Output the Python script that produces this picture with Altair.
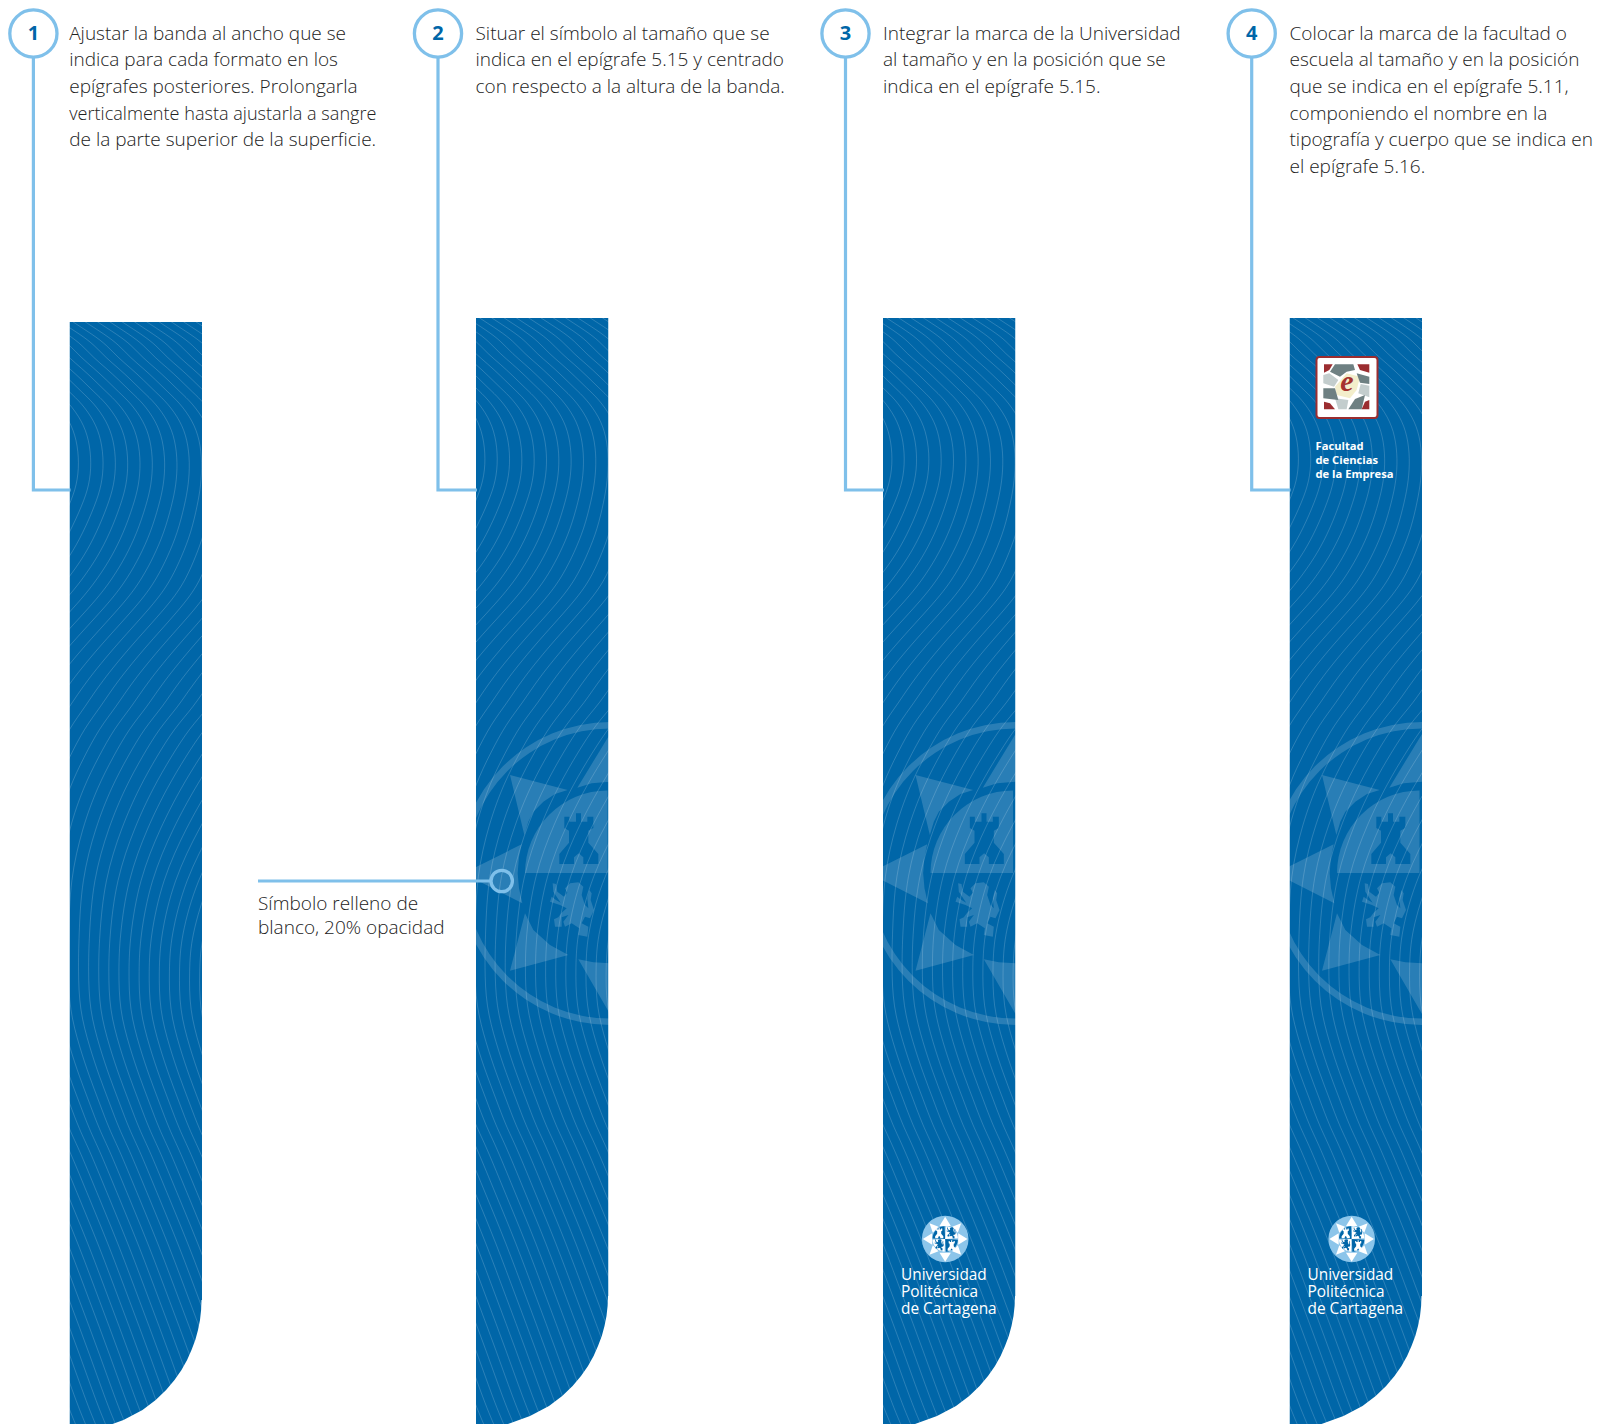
import altair as alt
import pandas as pd

# ---------- texts ----------
font = "Open Sans"
col1 = ["Ajustar la banda al ancho que se", "indica para cada formato en los", "epígrafes posteriores. Prolongarla",
        "verticalmente hasta ajustarla a sangre", "de la parte superior de la superficie."]
col2 = ["Situar el símbolo al tamaño que se", "indica en el epígrafe 5.15 y centrado", "con respecto a la altura de la banda."]
col3 = ["Integrar la marca de la Universidad", "al tamaño y en la posición que se", "indica en el epígrafe 5.15."]
col4 = ["Colocar la marca de la facultad o", "escuela al tamaño y en la posición", "que se indica en el epígrafe 5.11,",
        "componiendo el nombre en la", "tipografía y cuerpo que se indica en", "el epígrafe 5.16."]
columns = [col1, col2, col3, col4]
line_y = [40, 66, 93, 120, 146, 173]
numbers = ["1", "2", "3", "4"]
upct_name = ["Universidad", "Politécnica", "de Cartagena"]
upct_y = [1280, 1297, 1314]
fac_name = ["Facultad", "de Ciencias", "de la Empresa"]
fac_y = [450, 464, 477.5]
note = ["Símbolo relleno de", "blanco, 20% opacidad"]
note_y = [910, 934]

# ---------- layout ----------
band_left = [69.5, 476, 883, 1289.5]
text_left = [69.2, 475.5, 883, 1289.5]
band_top = [322, 318, 318, 318]
band_w = 132.5
band_dy = [0, -4, -4, -4]
sym_dx = [0, 0, -1.5, -1.5]
node_x = [33.4, 438, 845.5, 1251.7]
BLUE = "#0066a8"
SKY = "#7fc0ea"
INK = "#222222"
VEIL = 0.16

# band's rounded corner: distance from left edge at each y
arc_y = [1300, 1310, 1320, 1330, 1340, 1350, 1360, 1370, 1380, 1390, 1400, 1410, 1420, 1428]
arc_x = [132, 131.6, 130.5, 128.5, 125.8, 122, 117.6, 112, 105, 96.6, 86.2, 73, 54, 32]

# contour pattern: first-line offset and line gap at each height
wave_y = [300, 320, 335, 345, 358, 368, 380, 392, 403, 421, 440, 463, 485, 505, 533, 557, 577, 600, 645, 683, 707, 728,
          757, 787, 827, 880, 937, 970, 1010, 1047, 1077, 1103, 1130, 1150, 1199, 1247, 1301, 1354, 1411, 1440]
wave_x = [-150, -123, -99, -86, -74, -62, -49, -37, -25, -12, -5, -2.6, -5, -12.8, -27, -42, -59, -80, -124, -155, -170.5,
          -180, -188.5, -196, -195, -183.5, -164, -163, -160, -150, -140, -130, -120, -110, -90, -70, -50, -30, -10, 3]
wave_g = [12.3] * 12 + [12.4, 12.8, 13.5, 14, 14.7, 15.3, 15.5, 15.5, 15.5, 15, 14.5, 14, 13, 11.5, 10.2, 10.1] + [10] * 12

# symbol pieces, in pixels of a 3x crop of the second band
tri_upper_left = [(120, 195), (293, 240), (255, 252), (220, 275), (190, 305), (175, 335), (163, 375)]
tri_left = [(0, 480), (155, 403), (147, 440), (143, 490), (147, 535), (157, 580), (0, 500)]
tri_lower_left = [(165, 610), (190, 660), (240, 705), (295, 735), (120, 782)]
tri_lower_right = [(325, 748), (370, 757), (420, 760), (420, 912)]
tri_upper_right = [(420, 72), (420, 215), (365, 220), (322, 233)]
castle = [(268, 462), (268, 432), (297, 398), (297, 362), (283, 354), (283, 320), (298, 320), (298, 335),
          (318, 335), (318, 310), (333, 310), (333, 335), (352, 335), (352, 320), (370, 320), (370, 354), (355, 362),
          (355, 398), (385, 432), (385, 462), (340, 462), (340, 442), (326, 430), (312, 442), (312, 462)]
lion = [(248, 520), (258, 522), (262, 545), (282, 560), (292, 548), (285, 535), (300, 520), (325, 517), (340, 530),
        (335, 555), (345, 585), (355, 595), (352, 565), (358, 540), (365, 550), (362, 570), (372, 600), (360, 625),
        (345, 620), (335, 640), (355, 650), (352, 680), (325, 675), (328, 655), (305, 640), (285, 650), (280, 635),
        (295, 615), (275, 622), (275, 650), (255, 650), (252, 628), (265, 622), (275, 608), (290, 595), (270, 585),
        (240, 575), (245, 560), (258, 570), (272, 578), (250, 545)]

# university emblem, in pixels of a 3x crop of the third band
star = [[(287, 140), (270, 168), (304, 168)], [(287, 275), (270, 248), (304, 248)],
        [(220, 207), (248, 190), (248, 224)], [(354, 207), (326, 190), (326, 224)],
        [(335, 160), (308, 170), (325, 188)], [(240, 160), (267, 170), (250, 188)],
        [(335, 254), (308, 244), (325, 226)], [(240, 254), (267, 244), (250, 226)]]

# faculty mark, in pixels of a 3x crop of the fourth band
mos_red = [[(252, 133), (278, 133), (268, 150), (252, 158)], [(352, 133), (388, 133), (388, 158), (360, 150)],
           [(252, 245), (270, 250), (285, 268), (252, 268)], [(365, 268), (375, 245), (388, 240), (388, 268)]]
mos_dark = [[(285, 133), (340, 133), (345, 150), (320, 155), (300, 170), (270, 155)],
            [(345, 237), (375, 225), (365, 268), (325, 268)],
            [(250, 205), (285, 205), (295, 240), (250, 235)],
            [(350, 160), (388, 170), (388, 192), (360, 188)]]
mos_light = [[(250, 165), (268, 160), (295, 180), (282, 200), (250, 190)],
             [(362, 192), (388, 197), (388, 232), (355, 220)],
             [(285, 235), (325, 240), (320, 268), (295, 268)]]
mos_cream = [[(285, 200), (320, 160), (360, 170), (350, 210), (330, 235), (290, 225)]]

# ---------- scales ----------
sx = alt.Scale(domain=[8, 1601], nice=False, zero=False)
sy = alt.Scale(domain=[1424, 8], nice=False, zero=False)
X = alt.X("x:Q", scale=sx, axis=None, title=None)
Y = alt.Y("y:Q", scale=sy, axis=None, title=None)

def polys(rows, color, opacity=1.0):
    df = pd.DataFrame(rows, columns=["id", "o", "x", "y"])
    return alt.Chart(df).mark_line(fill=color, fillOpacity=opacity, strokeWidth=0, interpolate="linear-closed",
                                   clip=True).encode(x=X, y=Y, detail="id:N", order="o:Q")

def rows_for(shapes, fx, fy, tag):
    out = []
    for i, s in enumerate(shapes):
        for o, (a, b) in enumerate(s):
            out.append((f"{tag}{i}", o, fx(a), fy(b)))
    return out

layers = []

# bands
layers.append(alt.Chart(pd.DataFrame({"x": band_left, "x2": [b + band_w for b in band_left], "y": band_top,
                                      "y2": [1430] * 4}))
              .mark_rect(color=BLUE, clip=True).encode(x=X, x2="x2:Q", y=Y, y2="y2:Q"))

# symbol on bands 2-4
ring = pd.DataFrame({"x": [band_left[i] + 134 + sym_dx[i] for i in (1, 2, 3)], "y": [873.5] * 3})
quad = pd.DataFrame({"x": [band_left[i] + 131.5 + sym_dx[i] for i in (1, 2, 3)], "y": [873] * 3})
layers.append(alt.Chart(ring).mark_arc(radius=151.5, radius2=145, theta=0, theta2=6.2832, color="white", opacity=VEIL)
              .encode(x=X, y=Y))
layers.append(alt.Chart(quad).mark_arc(radius=82.5, radius2=0, theta=4.7124, theta2=6.2832, color="white", opacity=VEIL)
              .encode(x=X, y=Y))
tri_rows, cas_rows, lio_rows = [], [], []
for i in (1, 2, 3):
    fx = lambda a, i=i: band_left[i] + sym_dx[i] + a / 3 - 6
    fy = lambda b: 710 + b / 3
    tri_rows += rows_for([tri_upper_left, tri_left, tri_lower_left, tri_lower_right, tri_upper_right], fx, fy, f"t{i}")
    cas_rows += rows_for([castle], fx, fy, f"c{i}")
    lio_rows += rows_for([lion], fx, fy, f"l{i}")
layers.append(polys(tri_rows, "white", VEIL))
layers.append(polys(cas_rows, BLUE))
layers.append(polys(lio_rows, "white", VEIL))

# contour lines
wave_rows = []
for b in range(4):
    for k in range(1, 31):
        for o, (yy, x0, g) in enumerate(zip(wave_y, wave_x, wave_g)):
            wave_rows.append((f"{b}-{k}", o, round(band_left[b] + x0 + k * g, 1), yy + band_dy[b]))
wave = pd.DataFrame(wave_rows, columns=["id", "o", "x", "y"])
layers.append(alt.Chart(wave).mark_line(color="white", opacity=0.22, strokeWidth=0.8, interpolate="basis", clip=True)
              .encode(x=X, y=Y, detail="id:N", order="o:Q"))

# white ground outside the bands
gaps_l = [8] + [b + band_w for b in band_left]
gaps_r = band_left + [1601]
layers.append(alt.Chart(pd.DataFrame({"x": gaps_l, "x2": gaps_r, "y": [8] * 5, "y2": [1424] * 5}))
              .mark_rect(color="white", clip=True).encode(x=X, x2="x2:Q", y=Y, y2="y2:Q"))
layers.append(alt.Chart(pd.DataFrame({"x": [8, band_left[0]], "x2": [1601, band_left[0] + band_w],
                                      "y": [8, 318], "y2": [318, band_top[0]]}))
              .mark_rect(color="white", clip=True).encode(x=X, x2="x2:Q", y=Y, y2="y2:Q"))
corner_rows = []
for b in range(4):
    right = band_left[b] + band_w + 1
    outline = [(band_left[b] + a, yy + band_dy[b]) for yy, a in zip(arc_y, arc_x)]
    outline += [(right, arc_y[-1] + band_dy[b] + 6), (right, arc_y[0] + band_dy[b])]
    corner_rows += [(f"k{b}", o, p[0], p[1]) for o, p in enumerate(outline)]
layers.append(polys(corner_rows, "white"))

# university emblem on bands 3 and 4
emb = pd.DataFrame({"x": [band_left[i] + 62.2 for i in (2, 3)], "y": [1239] * 2})
layers.append(alt.Chart(emb).mark_arc(radius=23.3, radius2=0, theta=0, theta2=6.2832, color="#8cc5ea").encode(x=X, y=Y))
star_rows = []
for i in (2, 3):
    star_rows += rows_for(star, lambda a, i=i: band_left[i] + a / 3 - 33.5, lambda b: 1170 + b / 3, f"s{i}")
layers.append(polys(star_rows, "white"))
for t0, t1, c in [(4.76, 6.23, BLUE), (0.05, 1.52, "white"), (3.19, 4.66, "white"), (1.62, 3.09, BLUE)]:
    layers.append(alt.Chart(emb).mark_arc(radius=12.7, radius2=0, theta=t0, theta2=t1, color=c).encode(x=X, y=Y))
mini_w, mini_b = [], []
for i in (2, 3):
    cx = band_left[i] + 62.2
    for (dx, dy) in [(-6, -6), (6.5, 6.5)]:
        mini_w += rows_for([castle], lambda a, cx=cx, dx=dx: cx + dx + (a - 326) * 0.07, lambda b, dy=dy: 1239 + dy + (b - 386) * 0.07, f"mw{i}{dx}")
    for (dx, dy) in [(6, -6), (-6, 6)]:
        mini_b += rows_for([lion], lambda a, cx=cx, dx=dx: cx + dx + (a - 306) * 0.07, lambda b, dy=dy: 1239 + dy + (b - 600) * 0.07, f"mb{i}{dx}")
layers.append(polys(mini_w, "white"))
layers.append(polys(mini_b, BLUE))

# faculty mark on band 4
fx4 = lambda a: 1240 + a / 3
fy4 = lambda b: 320 + b / 3
layers.append(alt.Chart(pd.DataFrame({"x": [1316.5], "x2": [1377.5], "y": [357], "y2": [418]}))
              .mark_rect(fill="white", stroke="#9b2d30", strokeWidth=2, cornerRadius=3).encode(x=X, x2="x2:Q", y=Y, y2="y2:Q"))
layers.append(polys(rows_for(mos_cream, fx4, fy4, "mc"), "#f3eecb"))
layers.append(polys(rows_for(mos_light, fx4, fy4, "ml"), "#c3cdcd"))
layers.append(polys(rows_for(mos_dark, fx4, fy4, "md"), "#6e8082"))
layers.append(polys(rows_for(mos_red, fx4, fy4, "mr"), "#9b2d30"))
layers.append(alt.Chart(pd.DataFrame({"x": [1347], "y": [391], "t": ["e"]}))
              .mark_text(font="Liberation Serif", fontSize=30, fontWeight="bold", fontStyle="italic", color="#a5322f",
                         align="center", baseline="alphabetic").encode(x=X, y=Y, text="t:N"))

# connectors
conn_rows = []
for b in range(4):
    conn_rows += [(b, 0, node_x[b], 58), (b, 1, node_x[b], 490), (b, 2, band_left[b] + 1, 490)]
conn = pd.DataFrame(conn_rows, columns=["id", "o", "x", "y"])
layers.append(alt.Chart(conn).mark_line(color=SKY, strokeWidth=3.2, strokeJoin="miter").encode(x=X, y=Y, detail="id:N", order="o:Q"))
layers.append(alt.Chart(pd.DataFrame({"x": node_x, "y": [33.5] * 4})).mark_point(shape="circle", size=2228, filled=True,
              fill="white", stroke=SKY, strokeWidth=3.3, opacity=1).encode(x=X, y=Y))
layers.append(alt.Chart(pd.DataFrame({"x": node_x, "y": [33.5] * 4, "t": numbers}))
              .mark_text(font=font, fontSize=20, fontWeight="bold", color=BLUE, align="center", baseline="middle")
              .encode(x=X, y=Y, text="t:N"))

# callout
call = pd.DataFrame({"id": [0, 0], "o": [0, 1], "x": [258, 490.5], "y": [881, 881]})
layers.append(alt.Chart(call).mark_line(color=SKY, strokeWidth=3.2).encode(x=X, y=Y, detail="id:N", order="o:Q"))
layers.append(alt.Chart(pd.DataFrame({"x": [501.7], "y": [881]})).mark_point(shape="circle", size=458, filled=False,
              stroke=SKY, strokeWidth=3.3, opacity=1).encode(x=X, y=Y))

# texts
body = []
for b, col in enumerate(columns):
    for i, t in enumerate(col):
        body.append({"x": text_left[b], "y": line_y[i], "t": t, "s": 18.1 if t.startswith("verticalmente") else 19})
body += [{"x": 258, "y": note_y[i], "t": note[i], "s": 19} for i in range(2)]
layers.append(alt.Chart(pd.DataFrame(body)).mark_text(font=font, fontWeight=300, color=INK, align="left",
              baseline="alphabetic").encode(x=X, y=Y, text="t:N", size=alt.Size("s:Q", scale=None, legend=None)))
up = []
for b in (2, 3):
    for i, t in enumerate(upct_name):
        up.append({"x": band_left[b] + 18, "y": upct_y[i], "t": t})
layers.append(alt.Chart(pd.DataFrame(up)).mark_text(font=font, fontSize=15.4, fontWeight=400, color="white", align="left",
              baseline="alphabetic").encode(x=X, y=Y, text="t:N"))
layers.append(alt.Chart(pd.DataFrame({"x": [1315.5] * 3, "y": fac_y, "t": fac_name}))
              .mark_text(font=font, fontSize=11.2, fontWeight="bold", color="white", align="left", baseline="alphabetic")
              .encode(x=X, y=Y, text="t:N"))

chart = alt.layer(*layers).properties(width=1593, height=1416, padding=0, autosize=alt.AutoSizeParams(type="none"),
                                      background="white").configure_view(stroke=None)
chart.save("out.html", embed_options={"renderer": "svg", "actions": False})
